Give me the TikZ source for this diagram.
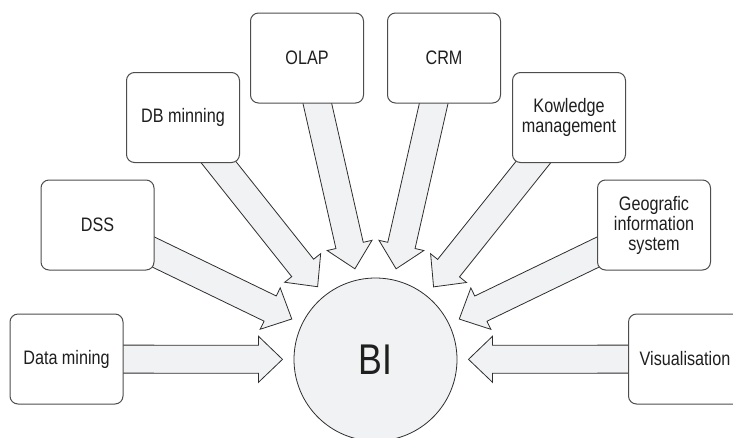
\documentclass[tikz,border=0pt]{standalone}
\usepackage{fontspec}
\setmainfont{Liberation Sans}[FakeStretch=0.83]
\usetikzlibrary{calc,backgrounds}
\definecolor{flowfill}{HTML}{F1F2F4}
\definecolor{edge}{HTML}{2E2E2E}
\tikzset{
  src/.style={draw=edge!85, line width=1pt, fill=white, rounded corners=8pt,
    minimum width=113pt, minimum height=90pt, align=center,
    font=\fontsize{19.5}{20}\selectfont, text=black!88},
  flow/.style={fill=flowfill, draw=edge, line width=0.8pt, line join=miter}
}

\begin{document}
\begin{tikzpicture}[x=1pt,y=-1pt]
\useasboundingbox (0,0) rectangle (733,437);
\clip (0,0) rectangle (733,437);

% Centre
\node[circle, draw=edge, line width=0.8pt, fill=flowfill, minimum size=163pt,
  inner sep=0pt, font=\fontsize{43}{43}\selectfont, text=black!88] (bi) at (375.5,359.5) {BI};

% Sources, left to right
\node[src] (dm)   at (66.5,359)  {Data mining};
\node[src] (dss)  at (97.5,225)  {DSS};
\node[src] (dbm)  at (183,117.5) {DB minning};
\node[src] (olap) at (307,58)    {OLAP};
\node[src] (crm)  at (444,58)    {CRM};
\node[src] (km)   at (569,117.5) {Kowledge\\management};
\node[src] (gis)  at (654,225)   {Geografic\\information\\system};
\node[src] (vis)  at (685,359)   {Visualisation};

% Block arrows into BI
\begin{pgfonlayer}{background}
\foreach \s in {dm,dss,dbm,olap,crm,km,gis,vis}{
  \coordinate (tip) at ($(bi.center)!93pt!(\s.center)$);
  \coordinate (hb) at ($(tip)!24pt!(\s.center)$);
  \filldraw[flow] ($(\s.center)!14pt!90:(tip)$) -- ($(hb)!14pt!-90:(\s.center)$)
    -- ($(hb)!23pt!-90:(\s.center)$) -- (tip) -- ($(hb)!23pt!90:(\s.center)$)
    -- ($(hb)!14pt!90:(\s.center)$) -- ($(\s.center)!14pt!-90:(tip)$) -- cycle;
}
\end{pgfonlayer}

\end{tikzpicture}
\end{document}
